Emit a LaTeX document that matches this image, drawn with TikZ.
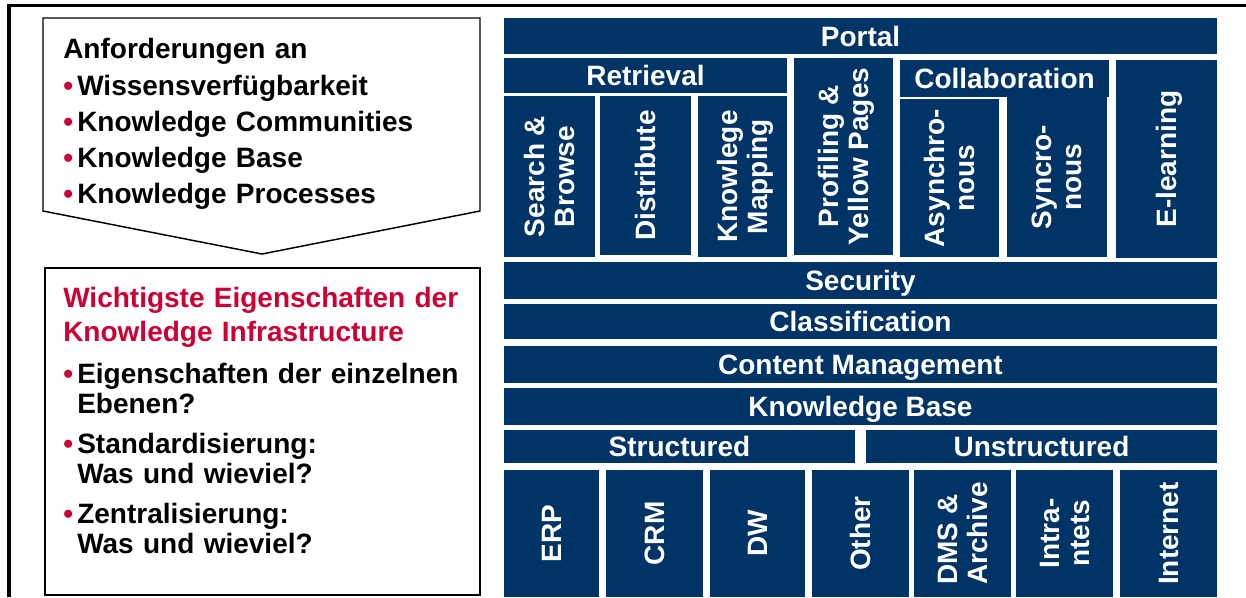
\documentclass[tikz,border=0pt]{standalone}
\usepackage{fontspec}
\setmainfont{Liberation Sans}
\usepackage{xcolor}
\usepackage{tikz}
\usetikzlibrary{positioning}
\definecolor{kmNavy}{RGB}{0,51,102}
\definecolor{kmRed}{RGB}{204,0,51}

\newcommand{\kmfont}{\fontsize{21pt}{22.5pt}\selectfont\bfseries}
\newcommand{\kmbullet}{\makebox[10.5pt][l]{\textcolor{kmRed}{\textbullet}}}

\tikzset{
  tile/.style={fill=kmNavy, text=white, inner sep=0pt, font=\kmfont},
  oneline/.style={tile, text height=15pt, text depth=0pt},
  twoline/.style={tile, align=center, text depth=0pt},
  notes/.style={anchor=base west, inner sep=0pt, align=left, text width=310pt},
}

% tile with horizontal label: name, x1, y1, x2, y2, label
\newcommand{\htile}[6]{%
  \node[oneline, minimum width={(#4-#2)*0.75pt}, minimum height={(#5-#3)*0.75pt}]
    (#1) at ({(#2+#4)/2},{(#3+#5)/2}) {#6};}
% tile with label turned upwards
\newcommand{\vtile}[7][oneline]{%
  \node[#1, rotate=90, minimum width={(#6-#4)*0.75pt}, minimum height={(#5-#3)*0.75pt}]
    (#2) at ({(#3+#5)/2},{(#4+#6)/2}) {#7};}

\begin{document}
\begin{tikzpicture}[x=0.75pt, y=-0.75pt]
    \useasboundingbox (0,0) rectangle (1246,597);

    % frame
    \draw[line width=2.5pt] (9,597) -- (9,5.5) -- (1246,5.5);

    % requirements (arrow box)
    \draw[line width=1.1pt] (43,18) -- (480,18) -- (480,211) -- (262,254) -- (43,211) -- cycle;
    \node[notes, font=\fontsize{21pt}{27pt}\selectfont\bfseries] (req) at (63,58)
        {Anforderungen an\\[0.75pt]
         \kmbullet Wissensverfügbarkeit\\
         \kmbullet Knowledge Communities\\
         \kmbullet Knowledge Base\\
         \kmbullet Knowledge Processes};

    % properties box
    \draw[line width=1.1pt] (45,268) rectangle (480,595);
    \node[notes, font=\kmfont] (props) at (63,307)
        {{\color{kmRed}Wichtigste Eigenschaften der\\[3pt]
          Knowledge Infrastructure}\\[9pt]
         \kmbullet Eigenschaften der einzelnen\\
         \hspace*{10.5pt}Ebenen?\\[7.5pt]
         \kmbullet Standardisierung:\\
         \hspace*{10.5pt}Was und wieviel?\\[7.5pt]
         \kmbullet Zentralisierung:\\
         \hspace*{10.5pt}Was und wieviel?};

    % infrastructure layers, top to bottom
    \htile{portal}{504}{18}{1217}{54}{Portal}
    \htile{retrieval}{504}{58}{787}{93}{Retrieval}
    \vtile[twoline]{search}{504}{96}{595}{257}{Search \&\\Browse}
    \vtile{distribute}{600}{96}{691}{255}{Distribute}
    \vtile[twoline]{mapping}{698}{96}{787}{257}{Knowlege\\Mapping}
    \vtile[twoline]{profiling}{794}{58}{893}{255}{Profiling \&\\Yellow Pages}
    \htile{collab}{900}{60}{1109}{97}{Collaboration}
    \vtile[twoline]{async}{900}{99}{999}{257}{Asynchro-\\nous}
    \vtile[twoline]{sync}{1007}{97}{1107}{257}{Syncro-\\nous}
    \vtile{elearning}{1116}{60}{1217}{258}{E-learning}

    \htile{security}{504}{262}{1217}{299}{Security}
    \htile{classification}{504}{304}{1217}{339}{Classification}
    \htile{content}{504}{346}{1217}{383}{Content Management}
    \htile{kbase}{504}{388}{1217}{425}{Knowledge Base}
    \htile{structured}{504}{430}{855}{463}{Structured}
    \htile{unstructured}{866}{430}{1217}{463}{Unstructured}

    % sources
    \vtile{erp}{504}{470}{599}{597}{ERP}
    \vtile{crm}{606}{470}{703}{597}{CRM}
    \vtile{dw}{710}{470}{805}{597}{DW}
    \vtile{other}{812}{470}{909}{597}{Other}
    \vtile[twoline, align=left]{dms}{914}{470}{1011}{597}{DMS \&\\Archive}
    \vtile[twoline]{intranets}{1016}{470}{1113}{597}{Intra-\\ntets}
    \vtile{internet}{1120}{470}{1217}{597}{Internet}
\end{tikzpicture}
\end{document}
